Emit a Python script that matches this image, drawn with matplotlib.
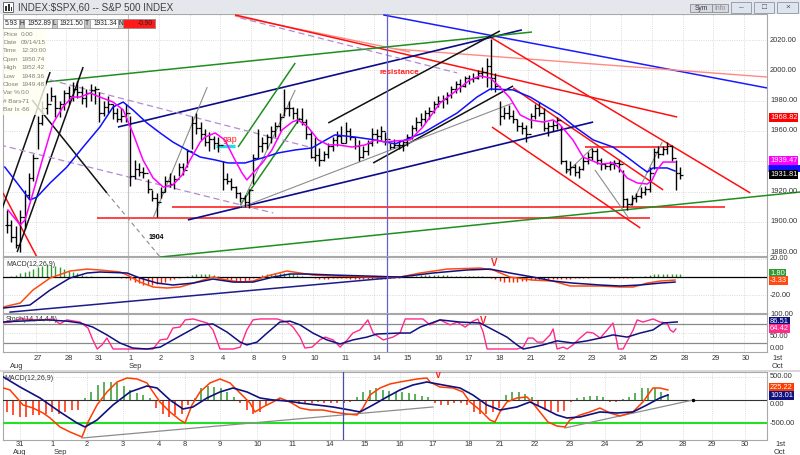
import numpy as np
import matplotlib
matplotlib.use("Agg")
import matplotlib.pyplot as plt
from matplotlib.patches import Rectangle
import matplotlib.transforms as mtransforms

plt.rcParams['font.family'] = ['Liberation Sans', 'DejaVu Sans']

# ------------------------------------------------------------------ data
# hourly bars, Aug 26 .. Sep 25 2015 (7 bars per session)
high = [1908, 1901, 1897, 1908, 1921, 1932, 1945,
        1970, 1980, 1985, 1989, 1984, 1980, 1987,
        1990, 1992, 1993, 1990, 1988, 1991, 1990,
        1986, 1980, 1983, 1978, 1975, 1975, 1978,
        1970, 1941, 1939, 1936, 1928, 1921, 1919,
        1923, 1930, 1932, 1931, 1939, 1939, 1948,
        1970, 1972, 1966, 1961, 1959, 1957, 1956,
        1940, 1932, 1929, 1924, 1920, 1918, 1922,
        1945, 1961, 1956, 1958, 1963, 1966, 1972,
        1988, 1980, 1976, 1975, 1975, 1968, 1960,
        1956, 1949, 1947, 1952, 1956, 1960, 1963,
        1966, 1962, 1956, 1954, 1950, 1954, 1962,
        1961, 1963, 1959, 1952.4, 1955, 1954, 1954,
        1958, 1964, 1969, 1972, 1974, 1976, 1980,
        1983, 1984, 1986, 1990, 1993, 1994, 1996,
        1997, 1998, 2000, 2002, 2008, 2021, 1998,
        1980, 1976, 1977, 1974, 1968, 1966, 1964,
        1972, 1978, 1979, 1975, 1966, 1967, 1969,
        1963, 1941, 1940, 1938, 1937, 1943, 1946,
        1949, 1949, 1942, 1939, 1940, 1941, 1941,
        1934, 1916, 1918, 1919, 1923, 1924, 1936,
        1949, 1950, 1950, 1953, 1951, 1941, 1936]
low = [1893, 1887, 1883, 1880, 1895, 1915, 1927,
       1948, 1964, 1971, 1980, 1969, 1969, 1974,
       1978, 1980, 1982, 1978, 1976, 1980, 1978,
       1966, 1970, 1972, 1968, 1966, 1966, 1966,
       1924, 1928, 1930, 1929, 1919, 1914, 1903,
       1916, 1920, 1923, 1922, 1930, 1931, 1936,
       1948, 1958, 1954, 1950, 1947, 1948, 1946,
       1921, 1925, 1921, 1916, 1913, 1910, 1909,
       1925, 1942, 1946, 1948, 1952, 1956, 1960,
       1970, 1970, 1968, 1965, 1964, 1955, 1942,
       1940, 1937, 1940, 1942, 1947, 1950, 1952,
       1952, 1954, 1948, 1940, 1942, 1944, 1950,
       1952, 1954, 1951, 1948.4, 1949, 1948, 1947,
       1950, 1955, 1960, 1963, 1965, 1968, 1972,
       1976, 1975, 1978, 1982, 1985, 1986, 1989,
       1991, 1992, 1994, 1995, 1989, 1987, 1986,
       1964, 1968, 1968, 1965, 1960, 1958, 1953,
       1962, 1968, 1970, 1960, 1957, 1960, 1961,
       1938, 1932, 1931, 1930, 1929, 1934, 1938,
       1941, 1938, 1934, 1935, 1934, 1935, 1933,
       1910, 1908, 1911, 1913, 1916, 1918, 1920,
       1935, 1942, 1944, 1945, 1940, 1921, 1928]
close = [1898, 1890, 1885, 1903, 1918, 1929, 1942,
         1965, 1975, 1978, 1983, 1975, 1978, 1985,
         1983, 1988, 1986, 1982, 1985, 1987, 1988,
         1972, 1976, 1978, 1972, 1968, 1970, 1972,
         1930, 1935, 1933, 1932, 1922, 1916, 1913,
         1920, 1927, 1925, 1928, 1936, 1934, 1947,
         1965, 1962, 1958, 1953, 1955, 1952, 1951,
         1928, 1927, 1923, 1919, 1916, 1913, 1921,
         1942, 1950, 1952, 1956, 1960, 1963, 1969,
         1975, 1975, 1972, 1968, 1966, 1958, 1943,
         1944, 1941, 1945, 1950, 1954, 1957, 1952,
         1960, 1956, 1950, 1943, 1947, 1952, 1958,
         1957, 1960, 1955, 1949.5, 1951, 1951, 1953,
         1956, 1962, 1966, 1968, 1972, 1973, 1978,
         1980, 1981, 1984, 1988, 1991, 1990, 1995,
         1994, 1995, 1998, 1999, 2003, 1995, 1990,
         1970, 1972, 1970, 1968, 1963, 1962, 1958,
         1970, 1975, 1972, 1962, 1963, 1964, 1967,
         1940, 1935, 1936, 1933, 1935, 1940, 1943,
         1947, 1941, 1938, 1937, 1938, 1939, 1938,
         1915, 1912, 1916, 1917, 1920, 1922, 1932,
         1946, 1945, 1948, 1950, 1942, 1932, 1931]

top_day_labels = ['27', '28', '31', '1', '2', '3', '4', '8', '9', '10', '11', '14', '15',
                  '16', '17', '18', '21', '22', '23', '24', '25', '28', '29', '30', '1st']
bars_per_day = 7
price_levels = [1880, 1900, 1920, 1960, 1980, 2000, 2020]

# moving averages (bar index, value)
ma_fast_i = [0.2, 3.0, 4.1, 5.9, 8.2, 10.5, 12.7, 14.8, 16.6, 18.9, 21.1, 24.1, 26.4, 28.6, 30.9, 33.2,
             35.5, 37.7, 39.8, 41.6, 43.9, 45.0, 47.3, 49.5, 51.8, 53.4, 54.5, 55.9, 58.0, 60.2, 62.5,
             64.8, 66.1, 68.4, 70.7, 73.0, 75.2, 78.4, 81.4, 83.6, 85.9, 88.2, 91.6, 94.5, 98.4, 102.3,
             105.2, 107.5, 109.8, 112.0, 114.3, 116.6, 118.9, 121.8, 124.1, 125.7, 128.6, 130.9, 134.8,
             137.7, 138.9, 140.9, 143.2, 145.5, 146.6, 147.7, 149.1, 151.8]
ma_fast = [1907.9, 1898.0, 1901.3, 1919.1, 1942.8, 1965.3, 1975.8, 1982.4, 1982.4, 1985.1, 1982.4,
           1979.1, 1973.9, 1958.7, 1940.9, 1929.0, 1923.0, 1924.4, 1931.0, 1940.9, 1952.7, 1956.0,
           1958.7, 1954.1, 1940.9, 1932.3, 1927.7, 1932.3, 1938.9, 1947.5, 1960.7, 1965.9, 1967.3,
           1962.6, 1954.1, 1950.8, 1950.8, 1949.4, 1950.8, 1954.1, 1952.7, 1953.4, 1954.1, 1962.6,
           1978.5, 1987.1, 1993.7, 1996.3, 1995.0, 1989.0, 1981.8, 1970.6, 1967.3, 1965.9, 1967.3,
           1964.0, 1954.1, 1942.8, 1938.2, 1938.9, 1936.2, 1929.0, 1925.7, 1925.0, 1927.7, 1934.3,
           1939.5, 1939.5]
ma_slow_i = [-0.5, 3.0, 5.2, 6.8, 9.8, 13.6, 17.3, 21.1, 24.1, 26.4, 28.6, 31.8, 34.8, 37.7, 40.9,
             43.9, 47.3, 50.2, 54.1, 58.0, 61.6, 65.5, 69.3, 71.6, 74.5, 79.1, 83.6, 88.2, 94.5, 102.3,
             106.8, 109.8, 115.0, 118.9, 122.7, 125.7, 129.1, 133.2, 137.7, 140.9, 143.9, 145.5,
             146.8, 150.0, 151.8]
ma_slow = [1936.2, 1923.0, 1914.5, 1916.4, 1925.7, 1936.2, 1949.4, 1962.6, 1975.8, 1979.1, 1973.9,
           1965.3, 1958.7, 1952.7, 1947.5, 1942.8, 1940.9, 1938.9, 1938.9, 1942.2, 1945.5, 1947.5,
           1948.8, 1952.7, 1957.4, 1956.0, 1954.1, 1951.5, 1958.7, 1971.9, 1982.4, 1987.7, 1987.1,
           1982.4, 1975.8, 1970.6, 1962.6, 1954.1, 1949.4, 1942.8, 1936.2, 1932.9, 1935.6, 1935.6,
           1933.6]

# hand-drawn trend lines: (bar0, price0, bar1, price1, style)
trend_lines = [
    (85.5, 2036.6, 172.7, 1988.4, 'blue'),
    (51.8, 2035.9, 91.6, 2012.1, 'salmon'),
    (88.2, 2014.1, 172.7, 1995.6, 'salmon'),
    (51.8, 2036.6, 152.3, 1969.2, 'red'),
    (109.8, 2022.0, 168.9, 1919.1, 'red'),
    (110.2, 1962.6, 143.9, 1896.0, 'red'),
    (115.0, 1988.4, 149.1, 1921.1, 'red'),
    (37.5, 1909.8, 163.2, 1909.8, 'red'),
    (20.5, 1902.6, 146.1, 1902.6, 'red'),
    (131.4, 1949.4, 150.2, 1949.4, 'red'),
    (-0.9, 1919.1, 6.8, 1876.8, 'red'),
    (25.2, 1962.6, 117.0, 2026.7, 'navy'),
    (41.1, 1901.3, 133.2, 1965.9, 'navy'),
    (8.6, 1992.3, 119.3, 2025.3, 'green'),
    (52.5, 1949.4, 65.5, 2004.9, 'green'),
    (53.0, 1911.2, 66.6, 1968.6, 'green'),
    (2.3, 1880.1, 17.3, 2002.2, 'black'),
    (-1.6, 1904.6, 9.8, 1998.9, 'black'),
    (5.7, 1980.5, 22.7, 1919.1, 'black'),
    (73.0, 1965.3, 112.0, 2026.0, 'black'),
    (83.2, 1938.9, 115.0, 1989.7, 'black'),
    (22.7, 1919.1, 34.8, 1876.8, 'greydash'),
    (33.2, 1902.6, 45.5, 1989.0, 'grey'),
    (53.0, 1909.8, 65.5, 1987.1, 'grey'),
    (53.4, 1909.8, 115.0, 1978.5, 'grey'),
    (127.3, 1932.9, 133.2, 1949.4, 'grey'),
    (133.6, 1934.3, 141.1, 1903.2, 'grey'),
    (141.6, 1909.8, 148.9, 1952.7, 'grey'),
    (9.8, 1993.7, 69.5, 1948.8, 'lilac'),
    (-1.6, 1950.8, 60.5, 1905.9, 'lilac'),
    (53.0, 2034.6, 102.3, 1998.3, 'lilac'),
    (47.5, 1950.1, 51.8, 1950.1, 'cyan'),
]
long_green = (34.8, 1876.8, 180.2, 1919.7)
marker_bar = 86.4   # 09/14/15 12:30 cursor

# MACD(12,26,9) of the hourly chart
macd_i = [-0.9, 3.0, 5.9, 9.8, 14.3, 18.2, 21.1, 25.7, 27.3, 30.2, 33.2, 36.4, 39.3, 42.3, 46.8, 50.0,
          53.0, 55.9, 59.1, 63.6, 66.6, 69.5, 74.1, 81.8, 89.3, 93.9, 100.0, 107.5, 110.5, 114.3,
          119.5, 124.1, 128.0, 134.8, 139.3, 142.3, 145.5, 148.4, 151.8]
macd = [-32.8, -28.4, -14.2, -1.1, 6.6, 8.7, 7.7, 5.5, 2.2, -5.5, -10.9, -12.0, -10.9, -6.6, 0.0, -3.3,
        -5.5, -4.4, 1.1, 6.6, 4.4, 2.2, 1.1, 0.0, 0.0, 4.4, 8.7, 9.8, 7.7, 0.0, -3.3, -4.4, -9.8, -9.8,
        -10.9, -10.9, -6.6, -4.4, -3.3]
signal_i = [-0.9, 5.2, 9.8, 14.3, 18.2, 21.1, 27.3, 30.2, 34.1, 37.7, 42.3, 46.8, 51.4, 55.9, 60.5,
            64.3, 68.2, 74.1, 81.8, 89.3, 96.8, 104.5, 109.8, 114.3, 119.5, 124.1, 128.6, 134.8,
            139.3, 143.9, 148.4, 151.8]
signal = [-33.9, -30.6, -14.2, -1.1, 4.4, 5.5, 4.4, -1.1, -6.6, -8.7, -6.6, -2.2, -5.5, -5.5, 0.0,
          3.3, 3.3, 2.2, 1.1, 0.0, 4.4, 7.7, 8.7, 4.4, 0.0, -4.4, -6.6, -8.7, -9.8, -8.7, -6.6, -5.5]
macd_hist = [0.5, 1, 2, 4, 5.5, 7, 9,
             11, 12.5, 14, 13.5, 12, 10.5, 9,
             7, 5.5, 4, 2.5, 1.5, 1, 0.5,
             0.5, 0.5, 0.3, 0, -0.5, -1, -1.5,
             -3, -5, -7, -8.5, -9, -8.5, -7.5,
             -6.5, -5, -3.5, -2, -1, 0, 1,
             2, 3, 3.5, 3.5, 3, 2.5, 1.5,
             -0.5, -2, -3.5, -5, -5.5, -4.5, -3,
             -1, 0.5, 2, 3, 3.5, 4, 4.5,
             4.5, 4, 3.5, 2.5, 1.5, 0.5, -0.5,
             -1.5, -2, -2.5, -2, -1.5, -1.5, -1.5,
             -1.5, -2, -2, -2, -2, -2, -2,
             -2, -2, -2, -1.5, -1.5, -1, -0.5,
             0.5, 1, 1.5, 2, 2, 2, 2,
             2, 2, 2, 1.5, 1.5, 1.5, 1.5,
             1.5, 1.5, 1, 1, 0.5, -1, -2.5,
             -4, -5, -5.5, -5.5, -5, -4.5, -4,
             -3.5, -3, -3, -3, -2.5, -2.5, -2,
             -2, -2, -2, -1.5, -1.5, -1, -1,
             -0.5, 0, 0, -0.5, -1, -1, -1.5,
             -1.5, -1.5, -1, -0.5, 0.5, 1.5, 2.5,
             3, 3.5, 3.5, 3.5, 3, 3, 3]
macd_trend = (0.7, -38.3, 89.3, 0.0)

# Stochastic
stk_i = [-1.6, 0.7, 3.0, 7.5, 10.5, 12.0, 13.6, 16.6, 18.4, 19.5, 20.5, 21.6, 22.7, 24.1, 27.3, 30.2,
         33.2, 34.8, 36.4, 37.7, 39.3, 40.5, 42.3, 45.5, 46.8, 48.4, 51.4, 53.0, 54.5, 55.9, 57.5,
         61.4, 63.6, 65.0, 66.6, 67.7, 69.3, 71.1, 72.3, 74.1, 75.7, 77.3, 78.6, 80.2, 82.0, 83.2,
         85.5, 87.7, 89.3, 90.5, 91.6, 94.5, 96.1, 98.4, 100.7, 102.3, 104.1, 105.9, 107.0, 108.2,
         109.1, 112.0, 115.9, 117.3, 118.4, 119.5, 120.5, 121.8, 123.4, 124.1, 125.0, 126.4, 127.3,
         128.6, 130.2, 131.8, 133.2, 134.8, 136.4, 137.7, 138.2, 138.9, 140.0, 141.1, 142.3, 143.2,
         144.5, 146.8, 148.4, 150.0, 150.7, 151.4, 152.0]
stk = [83, 86, 96, 93, 96, 80, 93, 86, 67, 29, 0, 13, 35, 0, 0, 0, 0, 29, 32, 67, 70, 93, 96, 83, 61,
       0, 0, 6, 61, 93, 96, 96, 86, 70, 38, 3, 6, 29, 38, 29, 6, 29, 51, 61, 93, 51, 29, 38, 51, 96,
       96, 96, 77, 93, 77, 86, 70, 89, 96, 54, 0, 0, 0, 6, 35, 35, 22, 22, 45, 64, 0, 6, 0, 13, 35,
       54, 51, 35, 61, 83, 51, 0, 0, 29, 61, 93, 86, 96, 86, 83, 61, 54, 64]
std_i = [-1.6, 3.0, 9.1, 13.6, 16.6, 19.5, 22.7, 25.7, 28.6, 31.8, 34.8, 37.7, 40.9, 43.9, 46.8, 50.0,
         53.0, 54.5, 56.8, 59.1, 62.0, 64.3, 66.6, 69.5, 72.7, 75.7, 78.6, 81.8, 84.1, 89.3, 91.6,
         93.9, 98.4, 103.0, 107.5, 110.5, 113.6, 115.9, 117.3, 119.5, 121.8, 125.0, 128.6, 131.8,
         134.8, 137.7, 140.9, 143.9, 146.8, 149.1, 152.3]
std = [86, 89, 93, 89, 83, 70, 45, 19, 3, 0, 6, 29, 54, 77, 80, 54, 22, 13, 22, 51, 86, 89, 77, 51,
       29, 16, 29, 38, 48, 51, 51, 70, 93, 86, 83, 61, 38, 13, 0, 6, 13, 26, 19, 26, 35, 45, 38, 51,
       61, 83, 86.5]

# lower window: MACD(12,26,9)
bot_day_labels = ['31', '1', '2', '3', '4', '8', '9', '10', '11', '14', '15', '16', '17', '18',
                  '21', '22', '23', '24', '25', '28', '29', '30', '1st']
bot_day_pos = [2.0, 7.1, 12.3, 17.9, 23.5, 27.5, 32.9, 38.6, 44.1, 49.8, 55.2, 60.6, 65.7, 71.3,
               76.1, 81.5, 86.9, 92.3, 97.7, 104.3, 108.8, 113.9, 119.3]
bot_macd_j = [-1.08, 0.46, 1.54, 2.47, 4.01, 5.56, 6.64, 8.18, 9.72, 11.57, 12.5, 13.89, 15.43, 16.98,
              18.52, 20.06, 21.6, 22.53, 23.61, 25.15, 26.7, 27.47, 28.55, 29.78, 31.33, 32.87, 34.41,
              35.96, 37.5, 38.27, 39.51, 41.05, 42.13, 43.67, 45.22, 46.76, 48.77, 50.31, 52.47, 54.01,
              54.94, 56.02, 57.56, 59.1, 60.65, 63.27, 64.81, 65.28, 66.82, 68.83, 70.37, 71.45, 73.0,
              74.54, 75.31, 76.08, 77.16, 78.7, 80.25, 81.02, 82.25, 83.49, 84.88, 86.11, 86.88, 88.43,
              89.97, 91.51, 93.06, 94.6, 95.68, 96.6, 98.15, 99.69, 100.77, 102.0]
bot_macd = [279, 215, 43, -107, -172, -279, -386, -579, -686, -794, -472, -107, 172, 386, 472, 450,
            365, 172, -43, -257, -429, -493, -107, 172, 365, 450, 365, 150, -64, -257, -150, -43, 43,
            -43, -172, -215, -215, -257, -300, -322, -172, 107, 257, 343, 386, 450, 472, 386, 279,
            257, 172, -43, -215, -429, -472, -257, -43, 43, 64, -43, -257, -472, -558, -579, -429,
            -322, -257, -172, -279, -343, -300, -257, -43, 257, 257, 215]
bot_sig_j = [-1.08, 2.0, 5.09, 8.18, 10.8, 12.04, 13.89, 16.36, 18.98, 21.6, 23.15, 25.15, 27.16,
             28.7, 30.86, 32.87, 34.88, 37.04, 39.04, 41.05, 43.21, 45.22, 47.84, 50.31, 52.93, 54.48,
             56.48, 58.64, 60.65, 62.65, 64.81, 67.28, 69.91, 71.91, 74.07, 76.08, 78.7, 80.71, 82.72,
             84.88, 86.42, 88.43, 91.51, 94.14, 96.6, 98.77, 100.77, 102.0]
bot_sig = [536, 279, 43, -257, -493, -579, -429, -107, 172, 300, 257, 0, -193, -150, 43, 172, 257,
           172, 43, 0, -21, -64, -107, -150, -215, -257, -107, 64, 215, 322, 386, 322, 257, 107,
           -107, -215, -150, -43, -172, -322, -386, -365, -257, -279, -257, -107, 43, 107]
bot_hist = [-250, -320, -360, -360, -320, -320, -290, -250, -290, -250, -215, -215,
            35, 180, 320, 380, 380, 360, 290, 215, 145, 110, 50,
            -180, -290, -360, -320, -290, -110,
            35, 250, 290, 270, 250, 180, 70,
            -70, -215, -290, -250, -110,
            20, 50,
            -35, -70, -90, -70, -70, -35, -70, -70, -70, -70, -35,
            70, 180, 215, 250, 215, 195, 165,
            180, 145, 120, 95, 70,
            -70, -110, -110, -70, -70, -110, -250, -290, -290, -250, -180,
            110, 165, 165, 120, 70,
            -110, -215, -235, -250, -235, -35,
            35, 70, 95, 95, 70,
            -35, -35,
            15, 70, 145, 250, 265, 265, 180, 120]
bot_trends = [(11.57, -815, 65.74, -150), (86.1, -600, 105.9, 0)]
bot_marker = 51.9

# ------------------------------------------------------------------ figure
W, H = 800, 455
fig = plt.figure(figsize=(8, 4.55), dpi=100)
fig.patch.set_facecolor('white')
FS = 5.4
TXT = '#333333'


def add_ax(x0, y0, x1, y1):
    ax = fig.add_axes([x0 / W, 1 - y1 / H, (x1 - x0) / W, (y1 - y0) / H])
    ax.set_xticks([])
    ax.set_yticks([])
    ax.set_facecolor('white')
    for s in ax.spines.values():
        s.set_color('#a8a8a8')
        s.set_linewidth(0.8)
    return ax


def right_label(ax, y, s, bg=None, fg=TXT):
    tr = mtransforms.blended_transform_factory(ax.transAxes, ax.transData)
    kw = dict(fontsize=FS, color=fg, va='center', ha='left', transform=tr, clip_on=False,
              zorder=8)
    if bg is not None:
        kw['bbox'] = dict(boxstyle='square,pad=0.12', fc=bg, ec='none')
        kw['color'] = 'white'
        kw['zorder'] = 9
    ax.text(1.004, y, s, **kw)


def right_swatch(ax, y, color):
    tr = mtransforms.blended_transform_factory(ax.transAxes, ax.transData)
    ax.add_patch(Rectangle((1.001, y), 0.043, 0, transform=tr, clip_on=False, ec=color, lw=5,
                           fc=color, zorder=8))


def fig_rect(x0, y0, x1, y1, fc, ec='none', lw=0.6, z=5, alpha=1.0):
    fig.patches.append(Rectangle((x0 / W, 1 - y1 / H), (x1 - x0) / W, (y1 - y0) / H,
                                 transform=fig.transFigure, fc=fc, ec=ec, lw=lw, zorder=z,
                                 alpha=alpha))


def fig_text(x, y, s, **kw):
    kw.setdefault('fontsize', FS)
    kw.setdefault('color', TXT)
    kw.setdefault('va', 'center')
    kw.setdefault('zorder', 12)
    fig.text(x / W, 1 - y / H, s, **kw)


n = len(close)
idx = np.arange(n)
opens = np.r_[close[0], close[:-1]]
XL = (-0.91, 172.7)
day_starts = [bars_per_day * (k + 1) for k in range(len(top_day_labels))]

# ---------------- price panel
ax = add_ax(3, 14, 767, 256)
ax.set_xlim(*XL)
ax.set_ylim(1877.5, 2037.2)
for d in day_starts:
    ax.axvline(d - 0.5, color='#cfcfcf', lw=0.6, ls=':', zorder=0)
for v in range(1880, 2030, 20):
    ax.axhline(v, color='#cfcfcf', lw=0.6, ls=':', zorder=0)
ax.axvline(27.5, color='#c0c0c0', lw=0.8, zorder=0)

styles = {
    'blue': dict(color='#1a1aff', lw=1.1),
    'salmon': dict(color='#ff8a80', lw=1.0),
    'red': dict(color='#ff1010', lw=1.1),
    'navy': dict(color='#0c0c8a', lw=1.2),
    'green': dict(color='#1f8f1f', lw=1.1),
    'black': dict(color='#111111', lw=1.1),
    'grey': dict(color='#8c8c8c', lw=0.8),
    'greydash': dict(color='#8c8c8c', lw=0.8, ls=(0, (4, 3))),
    'lilac': dict(color='#b48ad0', lw=0.9, ls=(0, (5, 3))),
    'cyan': dict(color='#22dde8', lw=2.4),
}
for x0, y0, x1, y1, st in trend_lines:
    ax.plot([x0, x1], [y0, y1], zorder=3, solid_capstyle='butt', **styles[st])
ax.plot([long_green[0], long_green[2]], [long_green[1], long_green[3]], color='#1f8f1f', lw=1.1,
        zorder=3, clip_on=False)

ax.vlines(idx, low, high, color='black', lw=1.0, zorder=4)
ax.hlines(close, idx, idx + 0.5, color='black', lw=0.9, zorder=4)
ax.hlines(opens, idx - 0.5, idx, color='black', lw=0.9, zorder=4)

ax.plot(ma_slow_i, ma_slow, color='#1010ff', lw=1.1, zorder=5)
ax.plot(ma_fast_i, ma_fast, color='#ff00ff', lw=1.1, zorder=5)
ax.axvline(marker_bar, color='#6464c8', lw=0.9, zorder=6)

ax.text(89.1, 1998.3, 'resistance', color='#ff2020', fontsize=5.8, fontweight='bold',
        ha='center', va='center', zorder=7)
ax.text(50.7, 1954.7, 'gap', color='#ff2020', fontsize=6.3, ha='center', va='center', zorder=7)
ax.text(33.9, 1890.0, '1904', color='black', fontsize=5, fontweight='bold',
        ha='center', va='center', zorder=7)

for v in price_levels:
    right_label(ax, v, f'{v:.2f}')
right_label(ax, 1968.82, '1968.82', bg='#ff0000')
right_swatch(ax, 1935.6, '#1010ff')
right_label(ax, 1940.3, '1939.47', bg='#ff00ff')
right_label(ax, 1931.4, '1931.81', bg='#000000')

# ---------------- MACD panel
axm = add_ax(3, 257, 767, 313)
axm.set_xlim(*XL)
axm.set_ylim(-39.3, 21.9)
for d in day_starts:
    axm.axvline(d - 0.5, color='#cfcfcf', lw=0.6, ls=':', zorder=0)
for v in (20, -20):
    axm.axhline(v, color='#cfcfcf', lw=0.6, ls=':', zorder=0)
axm.axvline(27.5, color='#c0c0c0', lw=0.8, zorder=0)
hist = np.array(macd_hist)
axm.vlines(idx, 0, hist, colors=np.where(hist >= 0, '#2f9a2f', '#ff2200'), lw=1.0, zorder=2)
axm.axhline(0, color='black', lw=0.9, zorder=3)
axm.plot([macd_trend[0], macd_trend[2]], [macd_trend[1], macd_trend[3]], color='#1c1c8c', lw=1.1,
         zorder=3)
axm.plot(macd_i, macd, color='#ff4a10', lw=1.1, zorder=4)
axm.plot(signal_i, signal, color='#101080', lw=1.1, zorder=4)
axm.axvline(marker_bar, color='#6464c8', lw=0.9, zorder=5)
axm.text(110.7, 15.3, 'V', color='#ff2020', fontsize=7, fontweight='bold', ha='center',
         va='center', zorder=6)
axm.text(0.004, 0.93, 'MACD(12,26,9)', transform=axm.transAxes, fontsize=5, color=TXT,
         va='top', ha='left')
right_label(axm, 20, '20.00')
right_label(axm, -20, '-20.00')
right_label(axm, 4.0, '1.80', bg='#2f9a2f')
right_label(axm, -4.0, '-3.33', bg='#ff4a10')

# ---------------- Stoch panel
axs = add_ax(3, 314, 767, 352)
axs.set_xlim(*XL)
axs.set_ylim(-9.6, 111.8)
for d in day_starts:
    axs.axvline(d - 0.5, color='#cfcfcf', lw=0.6, ls=':', zorder=0)
axs.axhline(50, color='#cfcfcf', lw=0.6, ls=':', zorder=0)
axs.axvline(27.5, color='#c0c0c0', lw=0.8, zorder=0)
axs.axhline(80, color='#8a8a8a', lw=0.9, zorder=1)
axs.axhline(20, color='#8a8a8a', lw=0.9, zorder=1)
axs.plot(stk_i, stk, color='#ff2a8a', lw=1.0, zorder=3)
axs.plot(std_i, std, color='#101080', lw=1.1, zorder=3)
axs.axvline(marker_bar, color='#6464c8', lw=0.9, zorder=5)
axs.text(108.2, 89.5, 'V', color='#ff2020', fontsize=7, fontweight='bold', ha='center',
         va='center', zorder=6)
axs.text(0.004, 0.96, 'Stoch(14,14,4,5)', transform=axs.transAxes, fontsize=5, color=TXT,
         va='top', ha='left')
right_label(axs, 110, '100.00')
right_label(axs, 40, '50.00')
right_label(axs, 0, '0.00')
right_label(axs, 89, '86.51', bg='#101080')
right_label(axs, 64.42, '64.42', bg='#ff2a8a')

# top date strip
for lab, d in zip(top_day_labels, day_starts):
    px = 7 + 4.4 * d
    fig_text(px, 358, lab, ha='center')
fig_text(17, 366, 'Aug', ha='center')
fig_text(135, 366, 'Sep', ha='center')
fig_text(777, 366, 'Oct', ha='center')
fig_rect(0, 370, 800, 372, '#d8d8d8', z=1)

# ---------------- lower window
axb = add_ax(3, 372, 767, 440)
axb.set_xlim(-0.62, 117.3)
axb.set_ylim(-858, 600)
for p in bot_day_pos:
    axb.axvline(p, color='#cfcfcf', lw=0.6, ls=':', zorder=0)
axb.axhline(500, color='#cfcfcf', lw=0.6, ls=':', zorder=0)
bh = np.array(bot_hist)
jj = np.arange(len(bh))
axb.vlines(jj, 0, bh, colors=np.where(bh >= 0, '#2f9a2f', '#ff2200'), lw=1.1, zorder=2)
axb.axhline(0, color='#333333', lw=0.8, zorder=3)
axb.axhline(-500, color='#22e022', lw=1.5, zorder=3)
for x0, y0, x1, y1 in bot_trends:
    axb.plot([x0, x1], [y0, y1], color='#8c8c8c', lw=0.9, zorder=3)
axb.plot([bot_trends[1][2]], [bot_trends[1][3]], 'o', color='black', ms=1.5, zorder=4)
axb.plot(bot_macd_j, bot_macd, color='#ff3c00', lw=1.1, zorder=4)
axb.plot(bot_sig_j, bot_sig, color='#101080', lw=1.2, zorder=4)
axb.axvline(bot_marker, color='#4a4aa8', lw=0.9, zorder=5)
axb.text(66.5, 536, 'V', color='#ff2020', fontsize=7, fontweight='bold', ha='center', va='center',
         zorder=6)
axb.text(0.002, 0.95, 'MACD(12,26,9)', transform=axb.transAxes, fontsize=5, color=TXT,
         va='top', ha='left')
right_label(axb, 500, '500.00')
right_label(axb, -100, '0.00')
right_label(axb, -500, '-500.00')
right_label(axb, 262, '225.22', bg='#ff3c00')
right_label(axb, 92, '103.01', bg='#101080')

for lab, p in zip(bot_day_labels, bot_day_pos):
    px = 7 + 6.48 * p
    fig_text(px, 445, lab, ha='center')
fig_text(20, 452, 'Aug', ha='center')
fig_text(60, 452, 'Sep', ha='center')
fig_text(780, 452, 'Oct', ha='center')

# ---------------- window chrome
fig_rect(0, 0, 800, 14, '#e4e7ec', z=5)
fig_rect(0, 13.5, 800, 14, '#b8bec8', z=5)
fig_rect(3, 2, 13, 12, '#ffffff', ec='#555555', lw=0.6, z=6)
fig_rect(5, 6, 6.5, 11, '#333333', z=7)
fig_rect(8, 4, 9.5, 11, '#333333', z=7)
fig_rect(10.5, 7, 12, 11, '#333333', z=7)
fig_text(18, 7.5, 'INDEX:$SPX,60 -- S&P 500 INDEX', fontsize=7.1, color='#404040', ha='left')
fig_rect(690, 4, 712, 12, '#d6dae0', ec='#8a8f98', z=6)
fig_text(701, 8, 'Sym', fontsize=4.8, ha='center')
fig_rect(712, 4, 728, 12, '#d6dae0', ec='#8a8f98', z=6)
fig_text(720, 8, 'Info', fontsize=4.8, ha='center', color='#888888')
for (a, b, g) in [(731, 751, '\u2013'), (754, 774, '\u25a1'), (777, 798, '\u00d7')]:
    fig_rect(a, 2, b, 13, '#dfe5ee', ec='#8a96a8', z=6)
    fig_text((a + b) / 2, 7.5, g, fontsize=6, ha='center', color='#505050')

# toolbar strip
fig_rect(3, 19, 155, 28, '#f0f0f0', ec='#9a9a9a', z=6)
fields = [(3, 19, '5.93', False), (19, 24, 'H', True), (24, 52, '1952.89', False),
          (52, 57, 'L', True), (57, 84, '1921.50', False), (84, 90, 'T', True),
          (90, 118, '1931.34', False), (118, 123, 'N', True)]
for a, b, s, lab in fields:
    fig_rect(a, 19, b, 28, '#c8c8c8' if lab else '#ffffff', ec='#9a9a9a', lw=0.5, z=6)
    fig_text(b - 1 if not lab else (a + b) / 2, 23.7, s, fontsize=4.8,
             ha='right' if not lab else 'center', color='#222222')
fig_rect(123, 19, 155, 28, '#ff1a1a', ec='#9a9a9a', lw=0.5, z=6)
fig_text(153, 23.7, '-0.90', fontsize=4.8, ha='right', color='#222222')

# info box
fig_rect(3, 29, 46, 115, '#fffff0', z=6, alpha=0.8)
info = [('Price', '0.00'), ('Date', '09/14/15'), ('Time', '12:30:00'), ('Open', '1950.74'),
        ('High', '1952.42'), ('Low', '1948.36'), ('Close', '1949.48'), ('Var %', '0.0'),
        ('# Bars', '-71'), ('Bar Ix', '-66')]
for k, (a, b) in enumerate(info):
    yy = 34 + k * 8.4
    fig_text(3, yy, a, fontsize=4.6, ha='left', color='#808080')
    fig_text(21, yy, b, fontsize=4.6, ha='left', color='#808080')

fig.savefig('out.png', dpi=100, facecolor='white')
